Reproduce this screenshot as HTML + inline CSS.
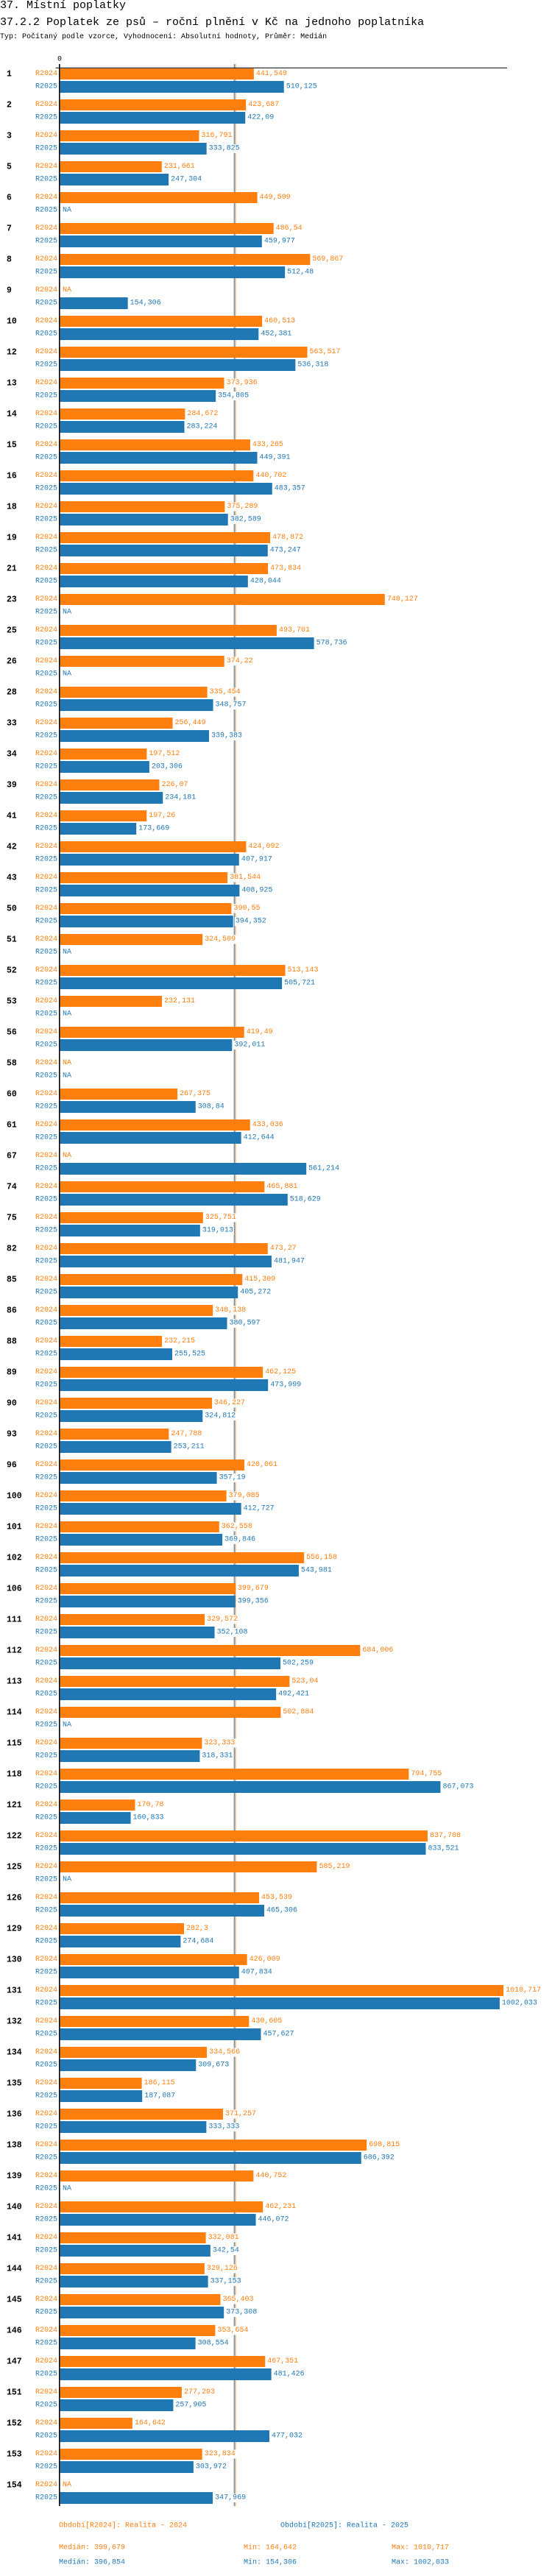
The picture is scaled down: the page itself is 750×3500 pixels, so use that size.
<!DOCTYPE html>
<html><head><meta charset="utf-8">
<style>
html,body{margin:0;padding:0;background:#fff;}
body{width:750px;height:3500px;overflow:hidden;position:relative;font-family:"Liberation Mono",monospace;}
.t{position:absolute;left:0;white-space:nowrap;color:#000;}
svg{position:absolute;left:0;top:0;}
</style></head><body>
<div class="t" style="top:-1px;font-size:15px;">37. Místní poplatky</div>
<div class="t" style="top:22px;font-size:15px;">37.2.2 Poplatek ze psů – roční plnění v Kč na jednoho poplatníka</div>
<div class="t" style="top:45px;font-size:10px;">Typ: Počítaný podle vzorce, Vyhodnocení: Absolutní hodnoty, Průměr: Medián</div>
<svg id="chart" width="750" height="3500" xmlns="http://www.w3.org/2000/svg" font-family="Liberation Mono, monospace"></svg>
<script>
const categories = ["1","2","3","5","6","7","8","9","10","12","13","14","15","16","18","19","21","23","25","26","28","33","34","39","41","42","43","50","51","52","53","56","58","60","61","67","74","75","82","85","86","88","89","90","93","96","100","101","102","106","111","112","113","114","115","118","121","122","125","126","129","130","131","132","134","135","136","138","139","140","141","144","145","146","147","151","152","153","154"];
const values2024 = [441.549,423.687,316.791,231.661,449.509,486.54,569.867,null,460.513,563.517,373.936,284.672,433.265,440.702,375.289,478.872,473.834,740.127,493.701,374.22,335.454,256.449,197.512,226.07,197.26,424.092,381.544,390.55,324.509,513.143,232.131,419.49,null,267.375,433.036,null,465.881,325.751,473.27,415.309,348.138,232.215,462.125,346.227,247.788,420.061,379.085,362.558,556.158,399.679,329.572,684.006,523.04,502.884,323.333,794.755,170.78,837.708,585.219,453.539,282.3,426.009,1010.717,430.605,334.566,186.115,371.257,698.815,440.752,462.231,332.081,329.126,365.403,353.654,467.351,277.293,164.642,323.834,null];
const values2025 = [510.125,422.09,333.825,247.304,null,459.977,512.48,154.306,452.381,536.318,354.805,283.224,449.391,483.357,382.589,473.247,428.044,null,578.736,null,348.757,339.383,203.306,234.181,173.669,407.917,408.925,394.352,null,505.721,null,392.011,null,308.84,412.644,561.214,518.629,319.013,481.947,405.272,380.597,255.525,473.999,324.812,253.211,357.19,412.727,369.846,543.981,399.356,352.108,502.259,492.421,null,318.331,867.073,160.833,833.521,null,465.306,274.684,407.834,1002.033,457.627,309.673,187.087,333.333,686.392,null,446.072,342.54,337.153,373.308,308.554,481.426,257.905,477.032,303.972,347.969];
const seriesNames = ["R2024","R2025"];
const medians = [399.679,396.854];
const mins = [164.642,154.306];
const maxs = [1010.717,1002.033];
const colors = ["#ff7f0e","#1f77b4"];

const svg = document.getElementById('chart');
const NS = 'http://www.w3.org/2000/svg';
const X0 = 81.7, SCALE = 0.596;
const xPos = v => X0 + v * SCALE;
const groupTop = i => 93 + 42 * i;
const fmt = v => String(v).replace('.', ',');
function mk(tag, attrs){ const e = document.createElementNS(NS, tag); for (const k in attrs) e.setAttribute(k, attrs[k]); svg.appendChild(e); return e; }

const lastY = groupTop(categories.length - 1) + 34;
// median lines
medians.forEach((m, s) => {
  const l = mk('line', {x1: xPos(m), x2: xPos(m), y1: 87, y2: lastY + 2, stroke: colors[s], 'stroke-width': 1});
  
  
});

categories.forEach((cat, i) => {
  const gy = groupTop(i);
  const t = mk('text', {x: 9, y: gy + 8, 'font-size': 11.5, 'font-weight': 'bold', 'dominant-baseline': 'central', fill: '#000'});
  t.textContent = cat;
  
  
  [values2024, values2025].forEach((arr, s) => {
    const v = arr[i];
    const by = gy + (s === 0 ? 0 : 17);
    const h = s === 0 ? 15 : 16;
    const cy = by + h / 2;
    const lab = mk('text', {x: 78, y: cy, 'font-size': 10, 'text-anchor': 'end', 'dominant-baseline': 'central', fill: colors[s]});
    lab.textContent = seriesNames[s];
    
    
    let tx = 85, txt = 'NA';
    if (v !== null) {
      const r = mk('rect', {x: X0, y: by, width: xPos(v) - X0, height: h, fill: colors[s]});
      
      
      tx = xPos(v) + 3; txt = fmt(v);
    }
    const bg = mk('rect', {x: tx - 1, y: cy - 6, width: txt.length * 6 + 2, height: 12, fill: '#fff'});
    
    
    const vt = mk('text', {x: tx, y: cy, 'font-size': 10, 'dominant-baseline': 'central', fill: colors[s]});
    vt.textContent = txt;
    
    
  });
});

// axes
const ax = mk('line', {x1: 75.5, x2: 689, y1: 92.3, y2: 92.3, stroke: '#000', 'stroke-width': 1});


const ay = mk('line', {x1: 80.8, x2: 80.8, y1: 87, y2: lastY + 2, stroke: '#000', 'stroke-width': 1.6});


const z = mk('text', {x: 81, y: 81, 'font-size': 10, 'text-anchor': 'middle', 'dominant-baseline': 'central', fill: '#000'});
z.textContent = '0';



// legend
const legendTexts = ['Období[R2024]: Realita - 2024', 'Období[R2025]: Realita - 2025'];
const legendX = [80, 381];
legendTexts.forEach((s, k) => {
  const e = mk('text', {x: legendX[k], y: 3432, 'font-size': 10, 'dominant-baseline': 'central', fill: colors[k]});
  e.textContent = s;
  
  
});
[0, 1].forEach(s => {
  const yy = s === 0 ? 3462 : 3482;
  const items = [['Medián: ' + fmt(medians[s]), 80], ['Min: ' + fmt(mins[s]), 331], ['Max: ' + fmt(maxs[s]), 532]];
  items.forEach(([txt, x]) => {
    const e = mk('text', {x: x, y: yy, 'font-size': 10, 'dominant-baseline': 'central', fill: colors[s]});
    e.textContent = txt;
    
    
  });
});
</script>
</body></html>
